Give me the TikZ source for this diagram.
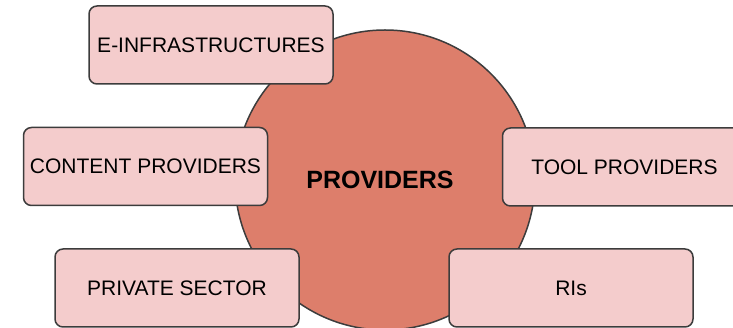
\documentclass[tikz,border=0pt]{standalone}
\usepackage{fontspec}
\setmainfont{Liberation Sans}
\usepackage{xcolor}
\usepackage{tikz}
\usetikzlibrary{shapes}
\definecolor{berry}{HTML}{DD7E6B}
\definecolor{rose}{HTML}{F4CCCC}
\definecolor{edge}{HTML}{3C3C3C}
\tikzset{
  % node options
  hub/.style={circle,draw=edge,line width=1.5pt,fill=berry,minimum size=300pt,inner sep=0pt},
  hubtext/.style={font=\fontsize{25}{29}\selectfont\bfseries},
  kind/.style={rectangle,rounded corners=8pt,draw=edge,line width=1.5pt,fill=rose,
    minimum width=244pt,minimum height=78pt,inner sep=0pt,font=\fontsize{21}{25}\selectfont},
}
\begin{document}
\begin{tikzpicture}[x=1pt,y=-1pt]
    \useasboundingbox (0,0) rectangle (733,328);
    \clip (0,0) rectangle (733,328);
    \node[hub] (providers) at (385,180) {};
    \node[hubtext] (providerslabel) at (380,180) {PROVIDERS};
    \node[kind] (einfra) at (211,45) {E-INFRASTRUCTURES};
    \node[kind] (content) at (145.5,166.5) {CONTENT PROVIDERS};
    \node[kind] (tool) at (624.5,167) {TOOL PROVIDERS};
    \node[kind] (private) at (177,288) {PRIVATE SECTOR};
    \node[kind] (ris) at (571,288) {RIs};
  \end{tikzpicture}
\end{document}
